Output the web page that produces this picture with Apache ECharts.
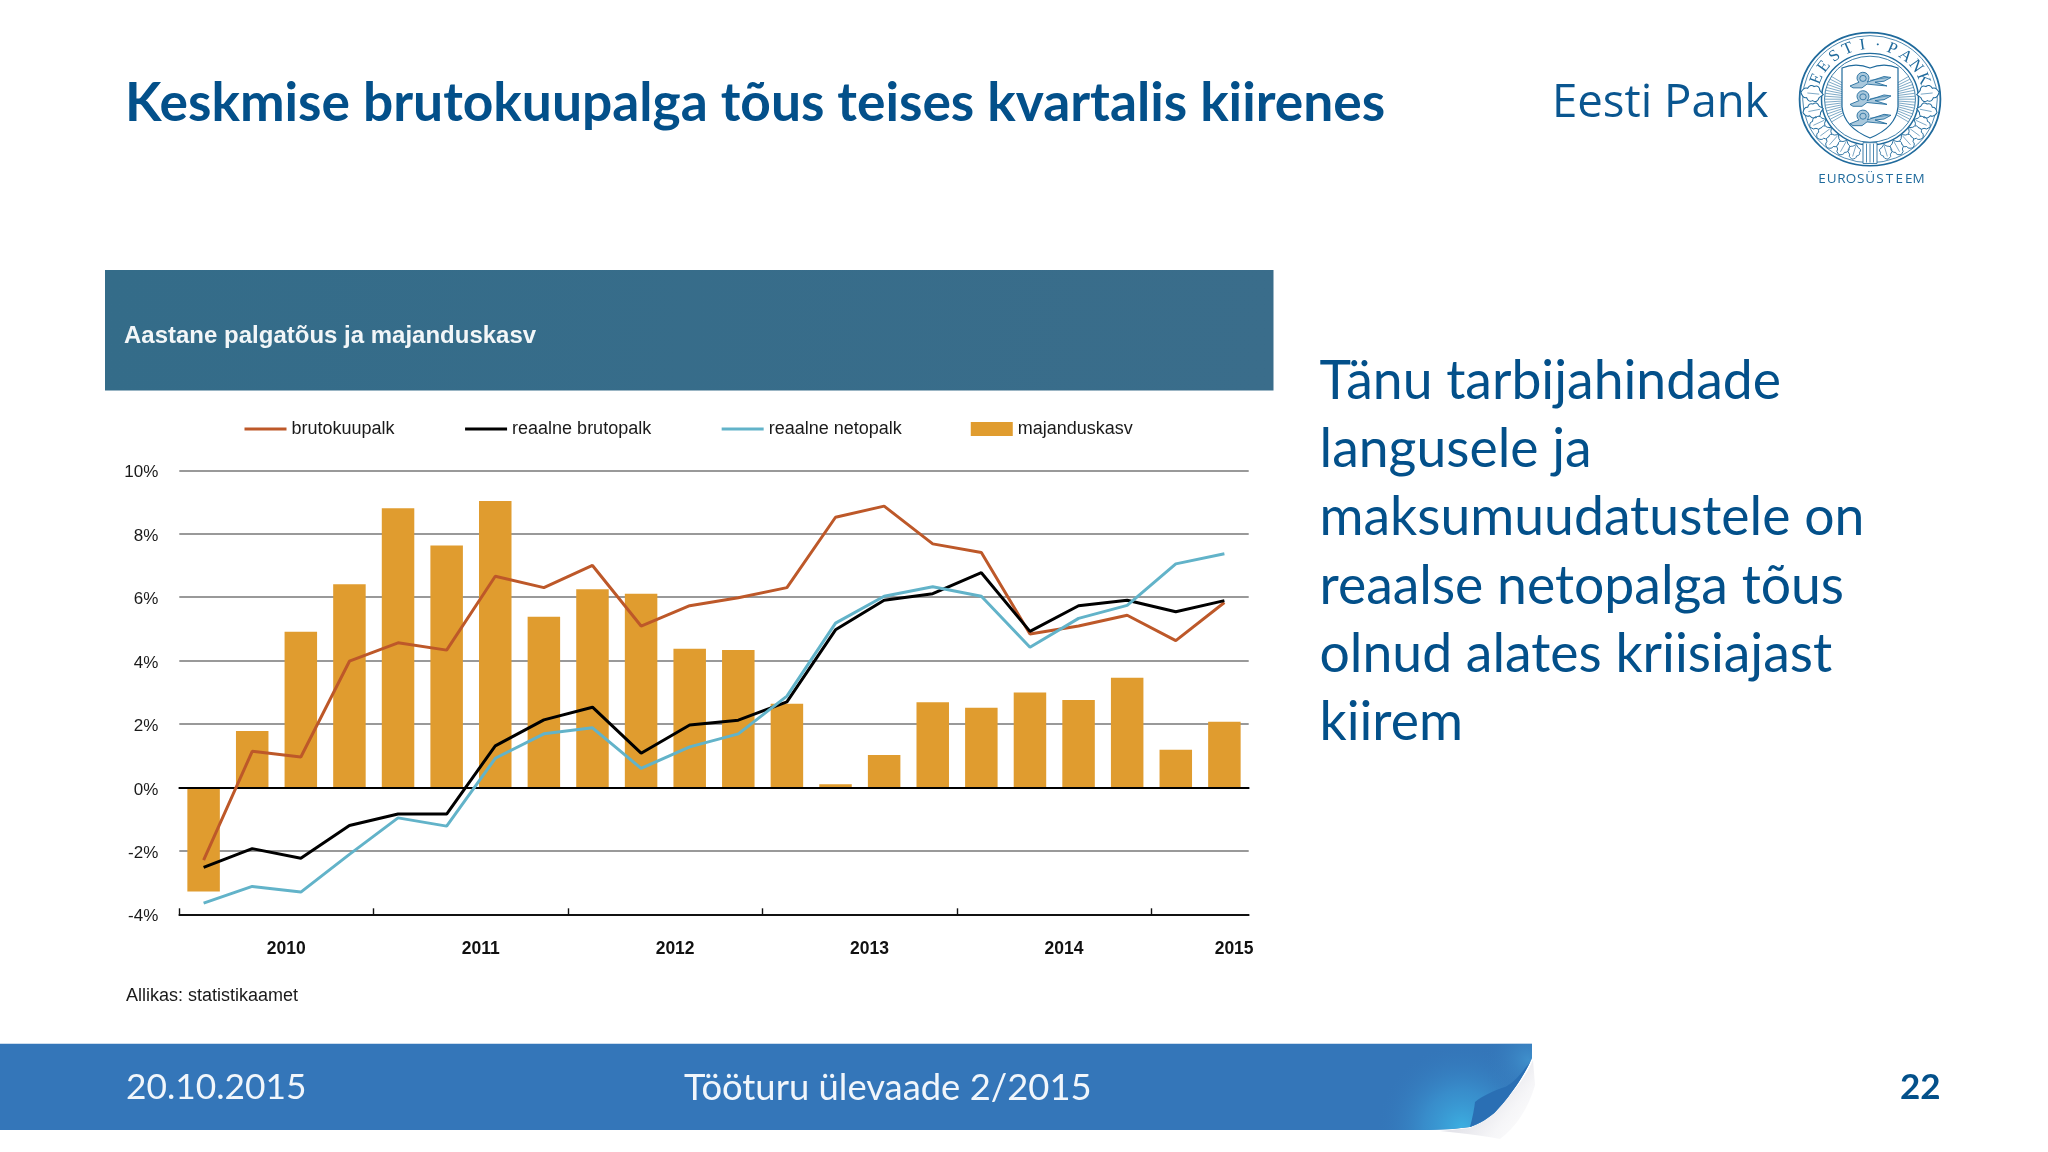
<!DOCTYPE html>
<html><head><meta charset="utf-8">
<style>html,body{margin:0;padding:0;background:#fff}#c{width:2048px;height:1152px}</style>
<script src="https://cdn.jsdelivr.net/npm/echarts@6/dist/echarts.min.js"></script>
</head><body><div id="c"></div>
<script>
const quarters = ['2010 I','2010 II','2010 III','2010 IV','2011 I','2011 II','2011 III','2011 IV','2012 I','2012 II','2012 III','2012 IV','2013 I','2013 II','2013 III','2013 IV','2014 I','2014 II','2014 III','2014 IV','2015 I','2015 II'];
const brutokuupalk = [-2.29,1.14,0.96,3.98,4.56,4.33,6.66,6.30,7.00,5.09,5.73,5.98,6.30,8.52,8.87,7.68,7.41,4.84,5.09,5.43,4.63,5.83];
const reaalneBrutopalk = [-2.52,-1.93,-2.23,-1.20,-0.84,-0.84,1.31,2.13,2.53,1.08,1.97,2.12,2.70,4.97,5.90,6.11,6.77,4.92,5.73,5.90,5.54,5.89];
const reaalneNetopalk = [-3.65,-3.12,-3.30,-2.11,-0.96,-1.22,0.92,1.69,1.88,0.60,1.28,1.69,2.88,5.18,6.03,6.33,6.03,4.42,5.33,5.74,7.05,7.37];
const majanduskasv = [-3.28,1.78,4.91,6.41,8.80,7.63,9.03,5.38,6.25,6.11,4.37,4.33,2.64,0.10,1.02,2.69,2.51,2.99,2.76,3.46,1.19,2.07];
const yearLabels = ['2010','2011','2012','2013','2014','2015'];
const seriesNames = ['brutokuupalk','reaalne brutopalk','reaalne netopalk','majanduskasv'];
const slideTitle = 'Keskmise brutokuupalga tõus teises kvartalis kiirenes';
const chartTitle = 'Aastane palgatõus ja majanduskasv';
const sourceNote = 'Allikas: statistikaamet';
const sideText = ['Tänu tarbijahindade','langusele ja','maksumuudatustele on','reaalse netopalga tõus','olnud alates kriisiajast','kiirem'];

const yearTickAt = [0,4,8,12,16,20];
const yearLabelAt = [2.2,6.2,10.2,14.2,18.2,21.7];
const BLUE='#03508a', SEAL='#1f6a9c';
const sx=1870, sy=99.2;

let pathCount=0;
function pathEl(d,style,extra){
  const name='decorPath'+(pathCount++);
  echarts.graphic.registerShape(name,echarts.graphic.extendPath(d,{}));
  return Object.assign({type:name,silent:true,style},extra||{});
}

function sealParts(){
  const p=[];
  const circ=(r,lw)=>p.push({type:'circle',shape:{cx:0,cy:0,r},style:{fill:'none',stroke:SEAL,lineWidth:lw},silent:true});
  circ(70.4,1.8);circ(67.3,.8);circ(48.5,1.5);circ(45.5,.9);
  [...'EESTI·PANK'].forEach((ch,i)=>{
    const a=(-68+i*136/9)*Math.PI/180;
    p.push({type:'text',x:57.5*Math.sin(a),y:-57.5*Math.cos(a),rotation:-a,silent:true,
      style:{text:ch,fill:SEAL,font:'17px "Liberation Serif"',align:'center',verticalAlign:'middle'}});
  });
  [-81,81].forEach(d=>{const a=d*Math.PI/180;p.push({type:'circle',shape:{cx:57*Math.sin(a),cy:-57*Math.cos(a),r:1.4},style:{fill:SEAL},silent:true});});
  for(let d=58;d<=122;d+=4){[1,-1].forEach(s=>{const a=d*Math.PI/180;
    p.push({type:'line',shape:{x1:s*26*Math.sin(a),y1:-26*Math.cos(a),x2:s*45*Math.sin(a),y2:-45*Math.cos(a)},style:{stroke:SEAL,lineWidth:.7,opacity:.85},silent:true});});}
  p.push(pathEl('M-28 -33Q-14 -39 0 -33Q14 -39 28 -33L28 8Q26 30 0 41Q-26 30 -28 8Z',{fill:'#fff',stroke:SEAL,lineWidth:1.2}));
  [-21,-1.5,19].forEach(y=>{const x=-20;
    p.push(pathEl('M0 7L9 3A6 6 0 1 1 17 3L34 -3L41 -2L34 2L25 3L37 7L26 6L17 5L12 9L3 9Z',{fill:'#a9c8dc',stroke:SEAL,lineWidth:.9},{x,y}));
    p.push({type:'circle',shape:{cx:x+13,cy:y-1,r:3.2},style:{fill:'none',stroke:SEAL,lineWidth:.8},silent:true});
    p.push({type:'line',shape:{x1:x+20,y1:y+1,x2:x+38,y2:y-2},style:{stroke:SEAL,lineWidth:.6},silent:true});
  });
  const leaf='M0 -10q5 2 4 5q4 2 2 5q2 4 -3 5l-3 3l-3 -3q-5 -1 -3 -5q-2 -3 2 -5q-1 -3 4 -5z';
  [[84,1.25],[102,1.15],[116,1.0],[128,1.0],[140,1.0],[152,.95],[164,.9]].forEach(([d,k])=>{[1,-1].forEach(s=>{const a=d*Math.PI/180;
    p.push(pathEl(leaf,{fill:'#fff',stroke:SEAL,lineWidth:.9},{x:s*57*Math.sin(a),y:-57*Math.cos(a),rotation:-s*a,scaleX:k,scaleY:k}));
    p.push({type:'line',shape:{x1:s*51*Math.sin(a),y1:-51*Math.cos(a),x2:s*63*Math.sin(a),y2:-63*Math.cos(a)},style:{stroke:SEAL,lineWidth:.6},silent:true});});});
  p.push({type:'rect',shape:{x:-7,y:46,width:14,height:22},style:{fill:'#fff',stroke:SEAL,lineWidth:.9},silent:true});
  [-3.5,0,3.5].forEach(x=>p.push({type:'line',shape:{x1:x,y1:47,x2:x,y2:67},style:{stroke:SEAL,lineWidth:.8},silent:true}));
  return [{type:'group',x:sx,y:sy,scaleY:.945,silent:true,children:p}];
}
const euroLetters=[...'EUROSÜSTEEM'].map((ch,i)=>({type:'text',x:1822+i*9.65,y:179.5,silent:true,style:{text:ch,fill:SEAL,font:'13.5px "Open Sans"',align:'center',verticalAlign:'middle'}}));
const txt=(text,x,y,font,fill,extra)=>Object.assign({type:'text',x,y,silent:true,style:{text,font,fill,align:'left',verticalAlign:'middle'}},extra||{});
const bandPath='M0 1043.7L1532 1043.7L1532 1058C1527 1070 1513 1093 1497 1110C1490 1118 1478 1124 1470 1127Q1450 1130 1430 1130L0 1130Z';

const graphics=[
  {type:'rect',z:-10,shape:{x:105,y:270,width:1168.5,height:120.5},style:{fill:{type:'linear',x:0,y:0,x2:1,y2:1,colorStops:[{offset:0,color:'#346c89'},{offset:1,color:'#3a6d8b'}]}},silent:true},
  txt(chartTitle,124,336,'bold 24px "Liberation Sans"','#f2f6f8'),
  txt(sourceNote,126,996,'18px "Liberation Sans"','#1a1a1a'),
  ...sideText.map((t,i)=>txt(t,1319.5,382+i*68.1,'53.5px Lato',BLUE)),
  txt('Eesti Pank',1552,104,'45.5px "Open Sans"','#0a5690'),
  ...sealParts(),
  ...euroLetters,
  pathEl('M1470 1128C1490 1118 1520 1090 1533 1060L1535 1085Q1525 1120 1500 1139Q1480 1135 1440 1131Z',{fill:{type:'linear',x:1480,y:1100,x2:1530,y2:1140,global:true,colorStops:[{offset:0,color:'#e4e4ea'},{offset:.5,color:'#f6f6f8'},{offset:1,color:'#ffffff'}]}}),
  pathEl(bandPath,{fill:'#3476b9'}),
  pathEl(bandPath,{fill:{type:'radial',x:1462,y:1128,r:85,global:true,colorStops:[{offset:0,color:'rgba(60,175,225,1)'},{offset:.45,color:'rgba(58,150,210,.7)'},{offset:1,color:'rgba(52,118,185,0)'}]}}),
  pathEl(bandPath,{fill:{type:'radial',x:1528,y:1060,r:45,global:true,colorStops:[{offset:0,color:'rgba(70,160,215,.6)'},{offset:1,color:'rgba(52,118,185,0)'}]}}),
  pathEl('M1532 1058C1530 1063 1528 1065 1526 1067C1518 1078 1510 1085 1505 1087C1495 1090 1482 1096 1475 1102Q1474 1112 1470 1127C1478 1124 1490 1118 1497 1110C1513 1093 1527 1070 1532 1058Z',{fill:'#2a6fb4'}),
  txt('20.10.2015',126,1088,'35.3px Lato','#f1f6fb'),
  txt('Tööturu ülevaade 2/2015',684,1088,'36.4px Lato','#f1f6fb'),
  txt('22',1900,1088,'bold 35px Lato',BLUE)
];

const chart=echarts.init(document.getElementById('c'),null,{renderer:'canvas',width:2048,height:1152});
const lineSeries=(name,data,color)=>({name,type:'line',data,z:4,symbol:'none',smooth:false,lineStyle:{color,width:3},itemStyle:{color},emphasis:{disabled:true}});
const legendLine={itemStyle:{color:'transparent',borderColor:'transparent',borderWidth:0},lineStyle:{width:3}};
chart.setOption({
  animation:false,
  backgroundColor:'#ffffff',
  title:{text:slideTitle,left:120,top:72,textStyle:{fontFamily:'Lato',fontWeight:'bold',fontSize:53.3,color:BLUE}},
  legend:{left:238,top:415,itemGap:69,itemWidth:42,itemHeight:14,selectedMode:false,
    textStyle:{fontFamily:'Liberation Sans',fontSize:18,color:'#1a1a1a',padding:[3,0,0,0]},
    data:[{name:seriesNames[0],...legendLine},{name:seriesNames[1],...legendLine},{name:seriesNames[2],...legendLine},{name:seriesNames[3],icon:'rect'}]},
  grid:{left:179.3,right:2048-1248.7,top:470.3,bottom:1152-914.3,containLabel:false},
  xAxis:[
    {type:'category',data:quarters,boundaryGap:true,z:3,
      axisLine:{show:true,onZero:true,lineStyle:{color:'#000',width:1.8}},axisTick:{show:false},axisLabel:{show:false},splitLine:{show:false}},
    {type:'value',min:0,max:22,position:'bottom',z:3,
      axisLine:{show:true,onZero:false,lineStyle:{color:'#111',width:1.8}},
      axisTick:{show:true,inside:true,length:6,customValues:yearTickAt,lineStyle:{color:'#111',width:1.4}},
      axisLabel:{show:true,customValues:yearLabelAt,margin:26,hideOverlap:false,showMinLabel:true,showMaxLabel:true,
        fontFamily:'Liberation Sans',fontWeight:'bold',fontSize:17.5,color:'#111',
        formatter:v=>yearLabels[yearLabelAt.indexOf(v)]},
      splitLine:{show:false}}
  ],
  yAxis:{type:'value',min:-4,max:10,interval:2,
    axisLine:{show:false},axisTick:{show:false},
    axisLabel:{margin:21,formatter:'{a|{value}%}',
      rich:{a:{fontFamily:'Liberation Sans',fontSize:17,color:'#1a1a1a',padding:[5,0,0,0]}}},
    splitLine:{show:true,lineStyle:{color:'#777',width:1.5}}},
  series:[
    {name:seriesNames[3],type:'bar',xAxisIndex:0,data:majanduskasv,barWidth:32.5,z:2,itemStyle:{color:'#e09c2f'},emphasis:{disabled:true}},
    lineSeries(seriesNames[0],brutokuupalk,'#bd5829'),
    lineSeries(seriesNames[1],reaalneBrutopalk,'#000000'),
    lineSeries(seriesNames[2],reaalneNetopalk,'#62b3c9')
  ],
  graphic:{elements:graphics}
});
</script></body></html>
